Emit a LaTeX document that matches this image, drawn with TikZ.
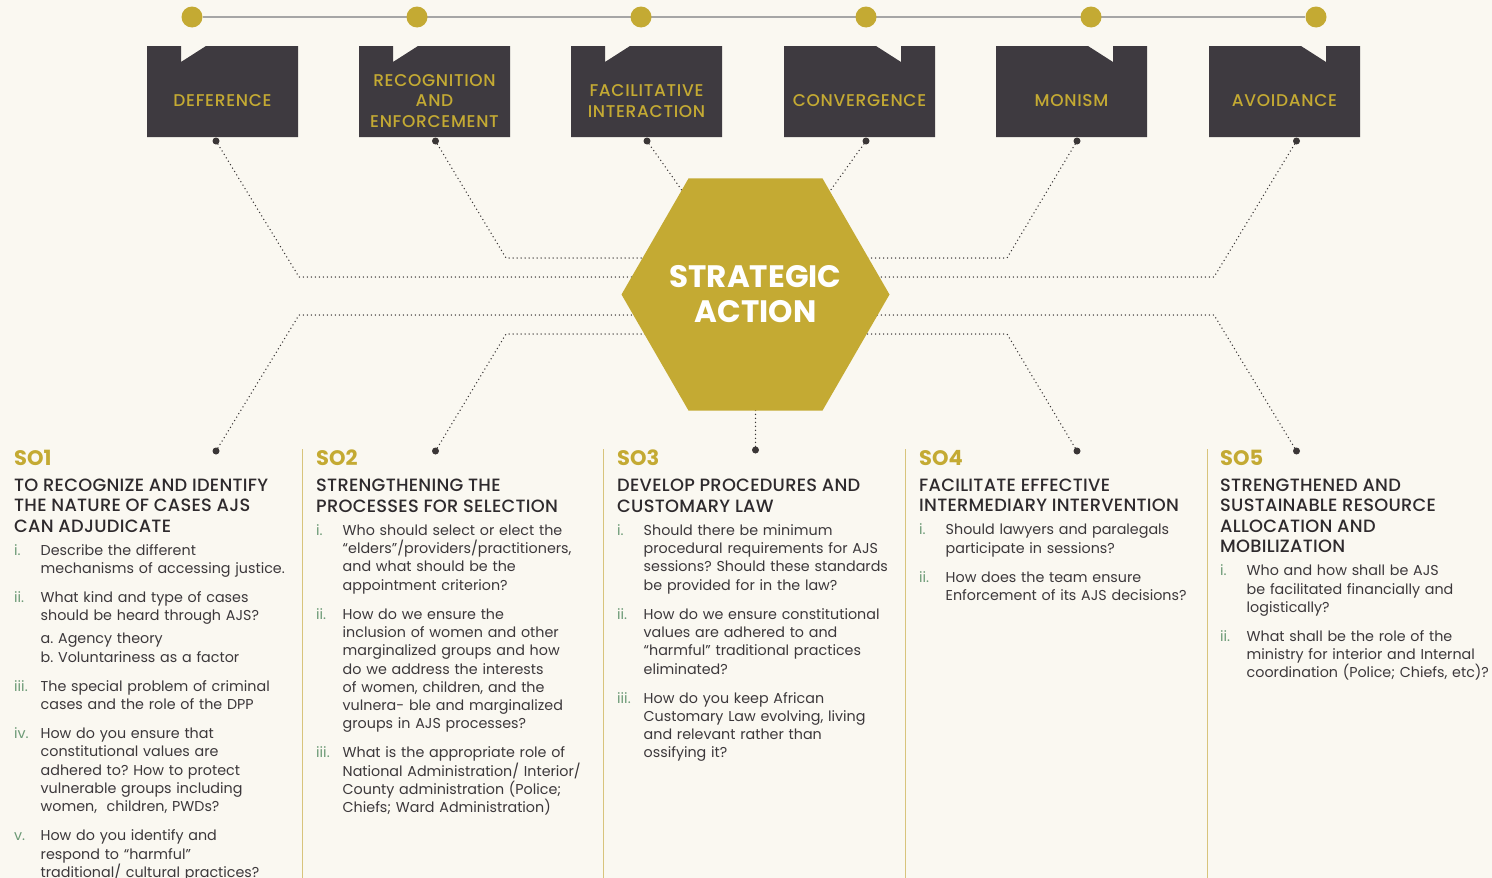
\documentclass[tikz,border=0pt]{standalone}
\usepackage{fontspec}
\setmainfont{Poppins}[WordSpace=0.85]
\newfontfamily\medfont{Poppins Medium}[LetterSpace=1.5]
\newfontfamily\labelfont{Poppins Medium}[LetterSpace=4]
\frenchspacing
\usetikzlibrary{shapes.geometric,backgrounds}

\definecolor{gold}{HTML}{C4AA33}
\definecolor{boxgray}{HTML}{3E3A40}
\definecolor{paper}{HTML}{FAF8F1}
\definecolor{ink}{HTML}{2E2A2D}
\definecolor{bodyink}{HTML}{3C383B}
\definecolor{numgreen}{HTML}{6C9A76}
\definecolor{rulegold}{HTML}{D8C47C}
\definecolor{dotgray}{HTML}{3A3636}

\tikzset{
  pin/.style={circle, fill=gold, minimum size=21pt, inner sep=0pt},
  dotend/.style={circle, fill=dotgray, minimum size=7pt, inner sep=0pt},
  dots/.style={draw=dotgray, line width=1.5pt, line cap=round, dash pattern=on 0pt off 4pt},
  boxlabel/.style={text=gold, align=center, font=\labelfont\fontsize{17}{20.3}\selectfont},
  col/.style={anchor=north west, inner sep=0pt, text width=300pt,
    text=bodyink, font=\fontsize{14.3}{18.3}\selectfont},
  sep/.style={draw=rulegold, line width=1pt}
}

\newcommand\sotitle[1]{\raggedright{\fontsize{21}{24}\selectfont\bfseries\color{gold}#1\par}\vspace{5.6pt}}
\newcommand\sohead[1]{{\medfont\fontsize{17.8}{20.4}\selectfont\color{ink}#1\par}\vspace{4.7pt}}
\newcommand\qitem[3][10.7pt]{\vspace{#1}{\let\\\newline\noindent\hangindent=26.5pt\hangafter=1%
  \makebox[26.5pt][l]{\color{numgreen}#2}#3\par}}

\begin{document}
\begin{tikzpicture}[x=1pt, y=-1pt]
        \useasboundingbox (0,0) rectangle (1492,878);
        \begin{scope}[on background layer]
            \fill[paper] (0,0) rectangle (1492,878);
        \end{scope}

        % Timeline
        \node[pin] (p1) at (192,17) {};
        \node[pin] (p2) at (417,17) {};
        \node[pin] (p3) at (641,17) {};
        \node[pin] (p4) at (866,17) {};
        \node[pin] (p5) at (1091,17) {};
        \node[pin] (p6) at (1316,17) {};

        % Deference
        \fill[boxgray] (147,46) -- ++(34,0) -- ++(0,16) -- ++(25,-16) -- ++(92,0) -- ++(0,91) -- ++(-151,0) -- cycle;
        \node[boxlabel] (deference) at (222.5,101) {DEFERENCE};
        % Recognition and enforcement
        \fill[boxgray] (359,46) -- ++(34,0) -- ++(0,16) -- ++(25,-16) -- ++(92,0) -- ++(0,91) -- ++(-151,0) -- cycle;
        \node[boxlabel] (recognition) at (434.5,101) {RECOGNITION\\AND\\ENFORCEMENT};
        % Facilitative interaction
        \fill[boxgray] (571,46) -- ++(34,0) -- ++(0,16) -- ++(25,-16) -- ++(92,0) -- ++(0,91) -- ++(-151,0) -- cycle;
        \node[boxlabel] (facilitative) at (646.5,101) {FACILITATIVE\\INTERACTION};
        % Convergence
        \fill[boxgray] (784,46) -- ++(92,0) -- ++(25,16) -- ++(0,-16) -- ++(34,0) -- ++(0,91) -- ++(-151,0) -- cycle;
        \node[boxlabel] (convergence) at (859.5,101) {CONVERGENCE};
        % Monism
        \fill[boxgray] (996,46) -- ++(92,0) -- ++(25,16) -- ++(0,-16) -- ++(34,0) -- ++(0,91) -- ++(-151,0) -- cycle;
        \node[boxlabel] (monism) at (1071.5,101) {MONISM};
        % Avoidance
        \fill[boxgray] (1209,46) -- ++(92,0) -- ++(25,16) -- ++(0,-16) -- ++(34,0) -- ++(0,91) -- ++(-151,0) -- cycle;
        \node[boxlabel] (avoidance) at (1284.5,101) {AVOIDANCE};

        % Strategic action
        \node[regular polygon, regular polygon sides=6, minimum size=268pt,
              inner sep=0pt, fill=gold] (hex) at (755.5,294.5) {};
        \node[text=white, align=center, font=\fontsize{31}{35}\selectfont\bfseries] (action) at (hex.center) {STRATEGIC\\ACTION};

        % Dot ends
        \node[dotend] (t1) at (216,141) {};
        \node[dotend] (t2) at (435.5,141) {};
        \node[dotend] (t3) at (647,141) {};
        \node[dotend] (t4) at (866,141) {};
        \node[dotend] (t5) at (1077,141) {};
        \node[dotend] (t6) at (1296.5,141) {};
        \node[dotend] (b1) at (216,451) {};
        \node[dotend] (b2) at (435.5,451) {};
        \node[dotend] (b3) at (755.5,450) {};
        \node[dotend] (b4) at (1077,451) {};
        \node[dotend] (b5) at (1296.5,451) {};
        \coordinate (t1k) at (299,277);
        \coordinate (t2k) at (506,258);
        \coordinate (t5k) at (1007,258);
        \coordinate (t6k) at (1214,277);
        \coordinate (b1k) at (299,315);
        \coordinate (b2k) at (506,334);
        \coordinate (b4k) at (1007,334);
        \coordinate (b5k) at (1214,315);

        \begin{scope}[on background layer]
            \draw[draw=black!35, line width=2pt] (p1) -- (p6);
            \draw[dots] (t1) -- (t1k) -- (t1k -| hex.center);
            \draw[dots] (t2) -- (t2k) -- (t2k -| hex.center);
            \draw[dots] (t3) -- (hex.center);
            \draw[dots] (t4) -- (hex.center);
            \draw[dots] (t5) -- (t5k) -- (t5k -| hex.center);
            \draw[dots] (t6) -- (t6k) -- (t6k -| hex.center);
            \draw[dots] (b1) -- (b1k) -- (b1k -| hex.center);
            \draw[dots] (b2) -- (b2k) -- (b2k -| hex.center);
            \draw[dots] (b3) -- (hex.center);
            \draw[dots] (b4) -- (b4k) -- (b4k -| hex.center);
            \draw[dots] (b5) -- (b5k) -- (b5k -| hex.center);
        \end{scope}

        % Separators
        \draw[sep] (302,449) -- (302,878);
        \draw[sep] (603.5,449) -- (603.5,878);
        \draw[sep] (905,449) -- (905,878);
        \draw[sep] (1207,449) -- (1207,878);

        % SO1
        \node[col] (so1) at (14,450) {\sotitle{SO1}
            \sohead{TO RECOGNIZE AND IDENTIFY\\THE NATURE OF CASES AJS\\CAN ADJUDICATE}
            \qitem[0pt]{i.}{Describe the different\\mechanisms of accessing justice.}
            \qitem{ii.}{What kind and type of cases\\should be heard through AJS?}
            \qitem[4.7pt]{}{a. Agency theory\\b. Voluntariness as a factor}
            \qitem{iii.}{The special problem of criminal\\cases and the role of the DPP}
            \qitem{iv.}{How do you ensure that\\constitutional values are\\adhered to? How to protect\\vulnerable groups including\\women,\ \ children, PWDs?}
            \qitem{v.}{How do you identify and\\respond to “harmful”\\traditional/ cultural practices?}};

        % SO2
        \node[col] (so2) at (316,450) {\sotitle{SO2}
            \sohead{STRENGTHENING THE\\PROCESSES FOR SELECTION}
            \qitem[0pt]{i.}{Who should select or elect the\\“elders”/providers/practitioners,\\and what should be the\\appointment criterion?}
            \qitem{ii.}{How do we ensure the\\inclusion of women and other\\marginalized groups and how\\do we address the interests\\of women, children, and the\\vulnera- ble and marginalized\\groups in AJS processes?}
            \qitem{iii.}{What is the appropriate role of\\National Administration/ Interior/\\County administration (Police;\\Chiefs; Ward Administration)}};

        % SO3
        \node[col] (so3) at (617,450) {\sotitle{SO3}
            \sohead{DEVELOP PROCEDURES AND\\CUSTOMARY LAW}
            \qitem[0pt]{i.}{Should there be minimum\\procedural requirements for AJS\\sessions? Should these standards\\be provided for in the law?}
            \qitem{ii.}{How do we ensure constitutional\\values are adhered to and\\“harmful” traditional practices\\eliminated?}
            \qitem{iii.}{How do you keep African\\Customary Law evolving, living\\and relevant rather than\\ossifying it?}};

        % SO4
        \node[col] (so4) at (919,450) {\sotitle{SO4}
            \sohead{FACILITATE EFFECTIVE\\INTERMEDIARY INTERVENTION}
            \qitem[0pt]{i.}{Should lawyers and paralegals\\participate in sessions?}
            \qitem{ii.}{How does the team ensure\\Enforcement of its AJS decisions?}};

        % SO5
        \node[col] (so5) at (1220,450) {\sotitle{SO5}
            \sohead{STRENGTHENED AND\\SUSTAINABLE RESOURCE\\ALLOCATION AND\\MOBILIZATION}
            \qitem[0pt]{i.}{Who and how shall be AJS\\be facilitated financially and\\logistically?}
            \qitem{ii.}{What shall be the role of the\\ministry for interior and Internal\\coordination (Police; Chiefs, etc)?}};
    \end{tikzpicture}
\end{document}
